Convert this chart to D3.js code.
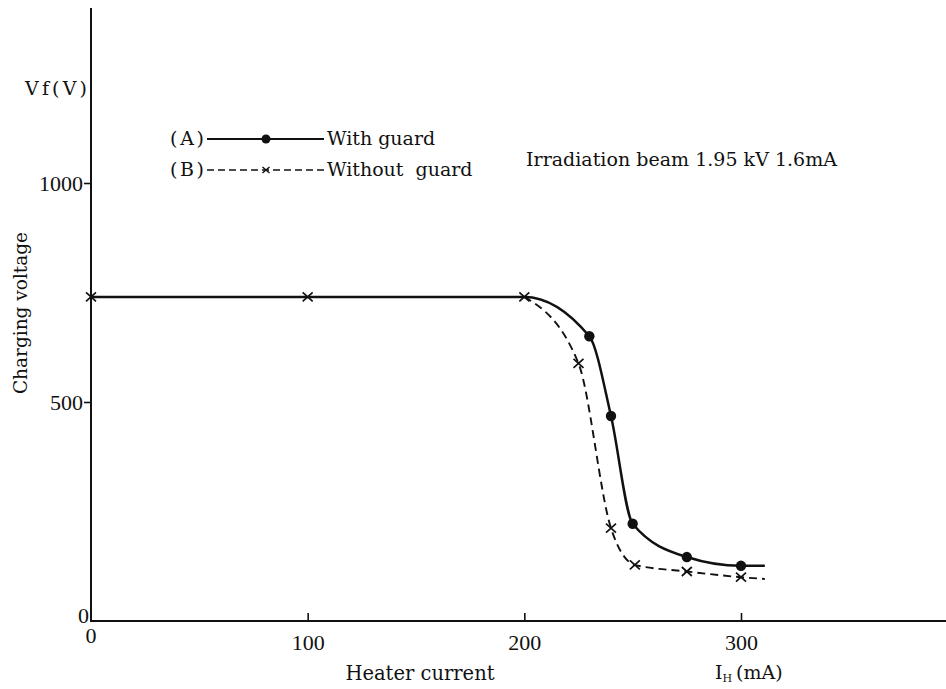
<!DOCTYPE html>
<html>
<head>
<meta charset="utf-8">
<script src="https://cdn.jsdelivr.net/npm/d3@7"></script>
<style>
  body { margin: 0; background: #fff; }
  text { fill: #111; }
</style>
</head>
<body>
<div id="vis-container"></div>
<script>
// ------------------------------ DATA ------------------------------ //
// (A) with guard: measured points (filled dots)
const currentA = [230, 240, 250, 275, 300];
const voltageA = [650, 468, 222, 146, 126];

// (B) without guard: measured points (crosses), the first three are shared by both curves
const currentB = [0, 100, 200, 225, 240, 251, 275, 300];
const voltageB = [740, 740, 740, 588, 212, 128, 113, 100];

// where the drawn curves stop on the right
const tailCurrent = 311;
const tailVoltageA = 126;
const tailVoltageB = 96;

const xTicks = [0, 100, 200, 300];
const yTicks = [0, 500, 1000];

// ------------------------------ SET UP ------------------------------ //
const width = 946;
const height = 689;
const origin = { x: 91, y: 621 };

const svg = d3.select("#vis-container")
  .append("svg")
  .attr("width", width)
  .attr("height", height);

const xScale = d3.scaleLinear()
  .domain([0, 300])
  .range([origin.x, 741]);

const yScale = d3.scaleLinear()
  .domain([0, 1000])
  .range([origin.y, 183]);

const serif = "'DejaVu Serif', serif";
const digits = "'Liberation Serif', serif";

// ------------------------------ AXES ------------------------------ //
// y axis: ticks to the left
const yAxis = svg.append("g")
  .attr("transform", `translate(${origin.x},0)`)
  .call(d3.axisLeft(yScale).tickValues(yTicks.slice(1)).tickSize(7).tickPadding(1).tickFormat(d3.format("d")));
yAxis.select(".domain").remove();
yAxis.selectAll("line").attr("stroke", "#111").attr("stroke-width", 1.6);
yAxis.selectAll("text").attr("font-family", digits).attr("font-size", 22).attr("fill", "#111");

svg.append("line")
  .attr("x1", origin.x).attr("x2", origin.x)
  .attr("y1", 8).attr("y2", origin.y + 1)
  .attr("stroke", "#111").attr("stroke-width", 2);

// x axis: ticks point up into the plot
const xAxis = svg.append("g")
  .attr("transform", `translate(0,${origin.y})`)
  .call(d3.axisBottom(xScale).tickValues(xTicks.slice(1)).tickSize(-8).tickPadding(13).tickFormat(d3.format("d")));
xAxis.select(".domain").remove();
xAxis.selectAll("line").attr("stroke", "#111").attr("stroke-width", 1.6);
xAxis.selectAll("text").attr("font-family", digits).attr("font-size", 22).attr("fill", "#111");

svg.append("line")
  .attr("x1", origin.x - 1).attr("x2", width)
  .attr("y1", origin.y).attr("y2", origin.y)
  .attr("stroke", "#111").attr("stroke-width", 2);

// the two zeros at the origin
svg.append("text")
  .attr("x", origin.x - 2).attr("y", origin.y + 2)
  .attr("text-anchor", "end")
  .attr("font-family", digits).attr("font-size", 22)
  .text(d3.format("d")(yTicks[0]));

svg.append("text")
  .attr("x", xScale(xTicks[0])).attr("y", origin.y + 22)
  .attr("text-anchor", "middle")
  .attr("font-family", digits).attr("font-size", 22)
  .text(d3.format("d")(xTicks[0]));

// axis titles
svg.append("text")
  .attr("x", 25).attr("y", 95)
  .attr("font-family", serif).attr("font-size", 19)
  .attr("textLength", 62)
  .text("Vf(V)");

svg.append("text")
  .attr("transform", "translate(27,313) rotate(-90)")
  .attr("text-anchor", "middle")
  .attr("font-family", serif).attr("font-size", 18.5)
  .text("Charging voltage");

svg.append("text")
  .attr("x", 420).attr("y", 680)
  .attr("text-anchor", "middle")
  .attr("font-family", serif).attr("font-size", 19.5)
  .text("Heater current");

const unit = svg.append("text")
  .attr("x", 715).attr("y", 679)
  .attr("font-family", serif).attr("font-size", 19);
unit.append("tspan").text("I");
unit.append("tspan").attr("font-size", 11).attr("dy", 3).text("H");
unit.append("tspan").attr("dy", -3).attr("dx", 4).text("(mA)");

// ------------------------------ CURVES ------------------------------ //
const line = d3.line()
  .x((d) => xScale(d[0]))
  .y((d) => yScale(d[1]))
  .curve(d3.curveMonotoneX);

const pointsB = currentB.map((c, i) => [c, voltageB[i]]);
const pointsA = currentA.map((c, i) => [c, voltageA[i]]);

// solid: shared flat part + (A)
const pathA = pointsB.slice(0, 3).concat(pointsA, [[tailCurrent, tailVoltageA]]);
// dashed: (B) from 200 mA onwards
const pathB = pointsB.slice(2).concat([[tailCurrent, tailVoltageB]]);

svg.append("path")
  .datum(pathB)
  .attr("d", line)
  .attr("fill", "none")
  .attr("stroke", "#111")
  .attr("stroke-width", 1.9)
  .attr("stroke-dasharray", "8,5");

svg.append("path")
  .datum(pathA)
  .attr("d", line)
  .attr("fill", "none")
  .attr("stroke", "#111")
  .attr("stroke-width", 2.5);

// markers
svg.selectAll(".dotA")
  .data(pointsA)
  .enter()
  .append("circle")
  .attr("class", "dotA")
  .attr("cx", (d) => xScale(d[0]))
  .attr("cy", (d) => yScale(d[1]))
  .attr("r", 5.2)
  .attr("fill", "#111");

const crossPath = "M-5,-4.5L5,4.5M-5,4.5L5,-4.5";
svg.selectAll(".crossB")
  .data(pointsB)
  .enter()
  .append("path")
  .attr("class", "crossB")
  .attr("d", crossPath)
  .attr("transform", (d) => `translate(${xScale(d[0])},${yScale(d[1])})`)
  .attr("fill", "none")
  .attr("stroke", "#111")
  .attr("stroke-width", 1.7);

// ------------------------------ LEGEND ------------------------------ //
const legend = svg.append("g");
const rows = [
  { key: "(A)", label: "With guard", y: 139, dashed: false },
  { key: "(B)", label: "Without  guard", y: 170, dashed: true }
];

rows.forEach((r) => {
  legend.append("text")
    .attr("x", 170).attr("y", r.y + 6)
    .attr("font-family", serif).attr("font-size", 19)
    .attr("textLength", 34)
    .text(r.key);

  legend.append("line")
    .attr("x1", 207).attr("x2", 324)
    .attr("y1", r.y).attr("y2", r.y)
    .attr("stroke", "#111")
    .attr("stroke-width", r.dashed ? 1.5 : 2)
    .attr("stroke-dasharray", r.dashed ? "7,4" : null);

  if (r.dashed) {
    legend.append("path")
      .attr("d", "M-3.5,-3L3.5,3M-3.5,3L3.5,-3")
      .attr("transform", `translate(266,${r.y})`)
      .attr("fill", "none").attr("stroke", "#111").attr("stroke-width", 1.5);
  } else {
    legend.append("circle")
      .attr("cx", 266).attr("cy", r.y).attr("r", 4.5).attr("fill", "#111");
  }

  legend.append("text")
    .attr("x", 327).attr("y", r.y + 6)
    .attr("font-family", serif).attr("font-size", 19)
    .style("white-space", "pre")
    .text(r.label);
});

svg.append("text")
  .attr("x", 526).attr("y", 166)
  .attr("font-family", serif).attr("font-size", 19)
  .attr("textLength", 311)
  .text("Irradiation beam 1.95 kV 1.6mA");
</script>
</body>
</html>
